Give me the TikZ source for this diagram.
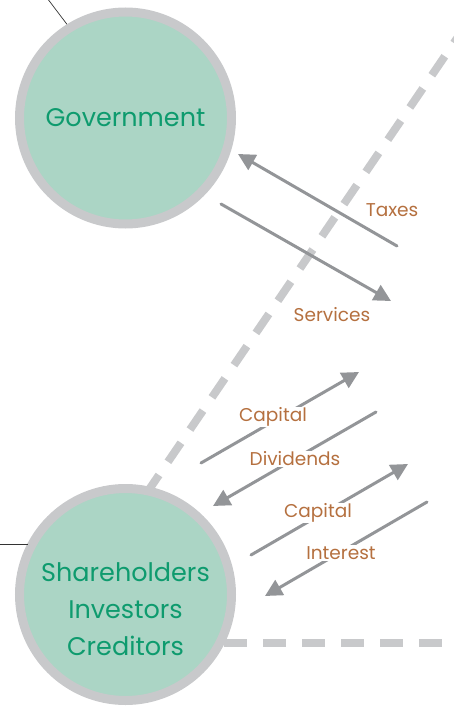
\documentclass[tikz,border=0pt]{standalone}
\usepackage{fontspec}
\setmainfont{Poppins}
\usetikzlibrary{arrows.meta}
\definecolor{ringgray}{HTML}{C8C9CB}
\definecolor{fillgreen}{HTML}{ABD5C5}
\definecolor{textgreen}{HTML}{0E9B6E}
\definecolor{arrowgray}{HTML}{939598}
\definecolor{labelbrown}{HTML}{B5703F}
\tikzset{
  party/.style={circle, draw=ringgray, line width=9pt, fill=fillgreen, minimum size=212pt, inner sep=0pt},
  partytext/.style={text=textgreen, font=\fontsize{25.5}{37}\selectfont, align=center, inner sep=0pt},
  flow/.style={draw=arrowgray, line width=3pt, line cap=round, -{Triangle[length=17pt,width=17pt]}},
  flowlabel/.style={text=labelbrown, font=\fontsize{18.5}{22}\selectfont, fill=white, inner sep=1pt},
  border/.style={draw=ringgray, line width=8pt, dash pattern=on 23pt off 16pt},
  leader/.style={draw=black!80, line width=0.7pt}
}
\begin{document}
\begin{tikzpicture}[x=1pt,y=-1pt]
\useasboundingbox (0,0) rectangle (454,706);
% frontier lines
\coordinate (d1) at (146,494);
\coordinate (d2) at (490,-10);
\coordinate (h1) at (224,643);
\coordinate (h2) at (470,643);
\draw[border] (d1) -- (d2);
\draw[border] (h1) -- (h2);
% leaders
\coordinate (l1) at (44,-6);
\coordinate (l2) at (-2,544);
\coordinate (l3) at (27.5,544);
% parties
\node[party] (gov) at (125.5,118) {};
\node[partytext] (govtext) at (125.5,118) {Government};
\node[party] (sh) at (125.5,594.5) {};
\node[partytext] (shtext) at (125.5,609) {Shareholders\\Investors\\Creditors};
\draw[leader] (l1) -- (gov.122.6);
\draw[leader] (l2) -- (l3);
% flows
\coordinate (ta) at (397,246); \coordinate (tb) at (238,154);
\coordinate (sa) at (221,204); \coordinate (sb) at (391,301);
\coordinate (ca) at (201,463); \coordinate (cb) at (359,372);
\coordinate (da) at (376,412); \coordinate (db) at (213,506);
\coordinate (ea) at (251,555); \coordinate (eb) at (408,464);
\coordinate (ia) at (427,502); \coordinate (ib) at (265,596);
\draw[flow] (ta) -- (tb);
\draw[flow] (sa) -- (sb);
\draw[flow] (ca) -- (cb);
\draw[flow] (da) -- (db);
\draw[flow] (ea) -- (eb);
\draw[flow] (ia) -- (ib);
% labels
\node[flowlabel] (taxes) at (392,210) {Taxes};
\node[flowlabel] (serv) at (332,315) {Services};
\node[flowlabel] (cap1) at (273,417) {Capital};
\node[flowlabel] (div) at (295,459) {Dividends};
\node[flowlabel] (cap2) at (318,513) {Capital};
\node[flowlabel] (int) at (341,553) {Interest};
\end{tikzpicture}
\end{document}
